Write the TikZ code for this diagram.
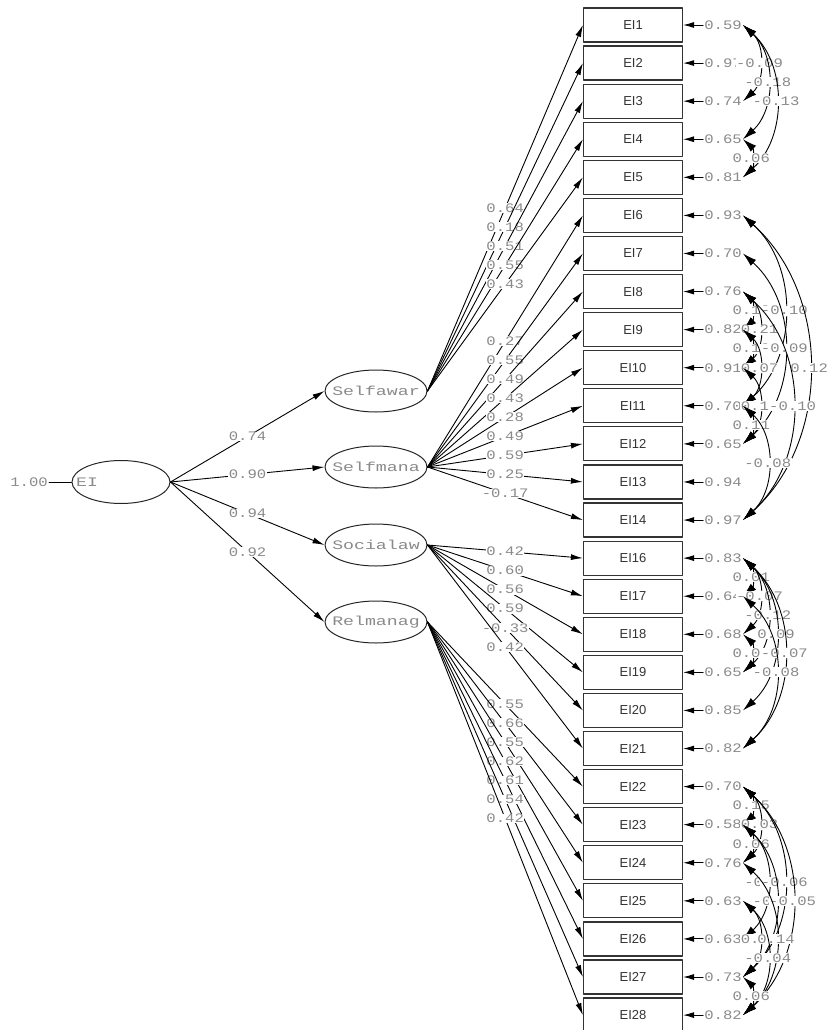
\documentclass[tikz,border=0pt]{standalone}
\usepackage{fontspec}
\usetikzlibrary{arrows.meta,shapes.geometric,positioning}
\newfontfamily\lisfont[FakeStretch=1.2]{Liberation Mono}
\newfontfamily\latfont[FakeStretch=1.4]{Liberation Mono}
\newfontfamily\boxfont{Liberation Sans}
\definecolor{numgray}{HTML}{8A8A8A}
\definecolor{boxline}{HTML}{333333}
\tikzset{
  indbox/.style={draw=boxline,line width=1.2pt,minimum width=99pt,minimum height=34pt,inner sep=0pt,
    font=\boxfont\fontsize{13}{13}\selectfont,text=black!80},
  latent/.style={ellipse,draw=black!85,line width=1pt,minimum width=102pt,minimum height=42pt,inner sep=0pt},
  lattxt/.style={font=\latfont\fontsize{13}{13}\selectfont,text=numgray,inner sep=0pt},
  errval/.style={font=\lisfont\fontsize{13}{13}\selectfont,text=numgray,inner sep=1pt},
  numlab/.style={fill=white,inner sep=0.5pt,font=\lisfont\fontsize{13}{13}\selectfont,text=numgray},
  loadarr/.style={line width=0.9pt,-{Latex[length=12pt,width=6pt]}},
  errarr/.style={line width=0.9pt,-{Latex[length=11pt,width=6pt]}},
  covarr/.style={line width=0.9pt,{Latex[length=14pt,width=8pt]}-{Latex[length=14pt,width=8pt]}}
}
\begin{document}
\begin{tikzpicture}[x=1pt,y=-1pt,line cap=round,line join=round]
  \useasboundingbox (0,0) rectangle (831,1030);
  % indicators
  \foreach \n [count=\i] in {1,2,3,4,5,6,7,8,9,10,11,12,13,14,16,17,18,19,20,21,22,23,24,25,26,27,28}
    \node[indbox] (x\n) at (633,{25+(\i-1)*38.08}) {EI\n};
  % latent variables
  \node[latent,minimum width=98pt,minimum height=43pt] (ei) at (121,482) {};
  \node[lattxt,anchor=west] (eitxt) at (76,482) {EI};
  \node[latent] (selfawar) at (376,391) {};
  \node[lattxt] (selfawartxt) at (selfawar.center) {Selfawar};
  \node[latent] (selfmana) at (376,467) {};
  \node[lattxt] (selfmanatxt) at (selfmana.center) {Selfmana};
  \node[latent] (socialaw) at (376,545) {};
  \node[lattxt] (socialawtxt) at (socialaw.center) {Socialaw};
  \node[latent] (relmanag) at (376,622) {};
  \node[lattxt] (relmanagtxt) at (relmanag.center) {Relmanag};
  \node[errval,anchor=east] (fix) at (49,482) {1.00};
  \draw[line width=0.9pt] (fix) -- (ei);
  % second order paths
  \draw[loadarr] (ei.east) -- node[numlab] {0.74} (selfawar.west);
  \draw[loadarr] (ei.east) -- node[numlab] {0.90} (selfmana.west);
  \draw[loadarr] (ei.east) -- node[numlab] {0.94} (socialaw.west);
  \draw[loadarr] (ei.east) -- node[numlab] {0.92} (relmanag.west);
  % loadings
  \foreach \n/\l in {1/0.64,2/0.18,3/0.51,4/0.55,5/0.43}
    \draw[loadarr] (selfawar.east) -- node[numlab] {\l} (x\n.west);
  \foreach \n/\l in {6/0.27,7/0.55,8/0.49,9/0.43,10/0.28,11/0.49,12/0.59,13/0.25,14/-0.17}
    \draw[loadarr] (selfmana.east) -- node[numlab] {\l} (x\n.west);
  \foreach \n/\l in {16/0.42,17/0.60,18/0.56,19/0.59,20/-0.33,21/0.42}
    \draw[loadarr] (socialaw.east) -- node[numlab] {\l} (x\n.west);
  \foreach \n/\l in {22/0.55,23/0.66,24/0.55,25/0.62,26/0.61,27/0.54,28/0.42}
    \draw[loadarr] (relmanag.east) -- node[numlab] {\l} (x\n.west);
  % error variances
  \foreach \n/\v in {1/0.59,2/0.97,3/0.74,4/0.65,5/0.81,6/0.93,7/0.70,8/0.76,9/0.82,10/0.91,
      11/0.70,12/0.65,13/0.94,14/0.97,16/0.83,17/0.64,18/0.68,19/0.65,20/0.85,21/0.82,
      22/0.70,23/0.58,24/0.76,25/0.63,26/0.63,27/0.73,28/0.82}{
    \node[errval,right=20pt of x\n] (v\n) {\v};
    \draw[errarr] (v\n) -- (x\n);
  }
  % error covariances
  \foreach \a/\b/\c in {1/3/-0.09,1/4/-0.18,1/5/-0.13,4/5/0.06,
      8/9/0.13,6/11/-0.10,8/10/0.21,9/10/0.10,7/12/-0.09,9/11/0.07,6/14/0.12,
      10/12/0.14,8/14/-0.10,11/12/0.11,11/14/-0.08,
      16/17/0.01,16/18/-0.07,16/19/-0.12,16/20/0.09,18/19/0.05,16/21/-0.07,17/21/-0.08,
      22/23/0.15,22/24/0.03,23/24/0.06,23/26/-0.02,22/27/-0.06,23/27/-0.03,22/28/-0.05,
      25/27/0.04,24/28/0.14,25/28/-0.04,27/28/0.06}
    \draw[covarr] (v\a.east) to[bend left=48] node[numlab] {\c} (v\b.east);
\end{tikzpicture}
\end{document}
